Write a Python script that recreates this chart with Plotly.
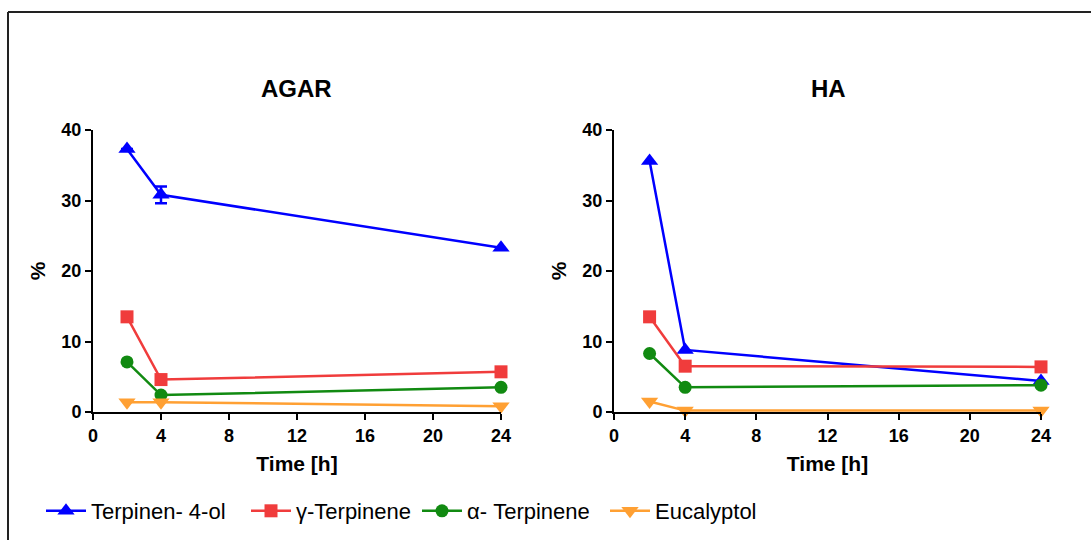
import plotly.graph_objects as go

# Sampling times (h)
time_h = [2, 4, 24]

# Release profiles (%) on AGAR
agar_terpinen4ol = [37.3, 30.8, 23.3]
agar_terpinen4ol_err = [0, 1.2, 0]
agar_gamma_terpinene = [13.5, 4.6, 5.7]
agar_alpha_terpinene = [7.1, 2.4, 3.5]
agar_eucalyptol = [1.4, 1.4, 0.8]

# Release profiles (%) on HA
ha_terpinen4ol = [35.6, 8.8, 4.4]
ha_gamma_terpinene = [13.5, 6.5, 6.4]
ha_alpha_terpinene = [8.3, 3.5, 3.8]
ha_eucalyptol = [1.5, 0.2, 0.2]

series_names = ["Terpinen- 4-ol", "\u03b3-Terpinene", "\u03b1- Terpinene", "Eucalyptol"]
x_ticks = [0, 4, 8, 12, 16, 20, 24]
y_ticks = [0, 10, 20, 30, 40]

colors = ["#0000FF", "#F03C3C", "#118A11", "#FFA033"]
symbols = ["triangle-up", "square", "circle", "triangle-down"]
marker_sizes = [15, 13, 13, 15]
FONT = "Arial, Liberation Sans, sans-serif"
W, H = 1091, 540

# one legend box per series so each entry sits at its own spot
legend_ids = ["legend", "legend2", "legend3", "legend4"]
legend_x_px = [41, 246, 417, 605]

fig = go.Figure()

panels = [
    ("x", "y", [agar_terpinen4ol, agar_gamma_terpinene, agar_alpha_terpinene, agar_eucalyptol], True),
    ("x2", "y2", [ha_terpinen4ol, ha_gamma_terpinene, ha_alpha_terpinene, ha_eucalyptol], False),
]

for xa, ya, data, show in panels:
    for i, vals in enumerate(data):
        err = None
        if show and i == 0:
            err = dict(type="data", array=agar_terpinen4ol_err, visible=True,
                       color=colors[0], thickness=2.5, width=6)
        fig.add_trace(go.Scatter(
            x=time_h, y=vals, xaxis=xa, yaxis=ya,
            mode="lines+markers", name=series_names[i],
            line=dict(color=colors[i], width=2.5),
            marker=dict(symbol=symbols[i], size=marker_sizes[i], color=colors[i]),
            error_y=err, showlegend=show, legend=legend_ids[i], cliponaxis=False,
        ))

axis_common = dict(
    showline=True, linecolor="black", linewidth=2,
    ticks="outside", ticklen=6, tickwidth=2, tickcolor="black",
    showgrid=False, zeroline=False,
    tickfont=dict(family=FONT, size=18, color="black", weight="bold"),
)

x_common = dict(axis_common, range=[0, 24], tickvals=x_ticks,
                title=dict(text="<b>Time [h]</b>", font=dict(family=FONT, size=21, color="black"), standoff=12))
y_common = dict(axis_common, range=[0, 40], tickvals=y_ticks,
                title=dict(text="<b>%</b>", font=dict(family=FONT, size=21, color="black"), standoff=10))

legend_style = dict(orientation="h", xanchor="left", y=1 - 511 / H, yanchor="middle",
                    font=dict(family=FONT, size=22, color="black"),
                    itemwidth=40, bgcolor="rgba(0,0,0,0)")
legends = {lid: dict(legend_style, x=px / W) for lid, px in zip(legend_ids, legend_x_px)}

fig.update_layout(
    width=W, height=H,
    margin=dict(l=0, r=0, t=0, b=0, autoexpand=False),
    paper_bgcolor="white", plot_bgcolor="white",
    xaxis=dict(x_common, domain=[93 / W, 501 / W], anchor="y"),
    yaxis=dict(y_common, domain=[1 - 412 / H, 1 - 130 / H], anchor="x"),
    xaxis2=dict(x_common, domain=[614 / W, 1041 / W], anchor="y2"),
    yaxis2=dict(y_common, domain=[1 - 412 / H, 1 - 130 / H], anchor="x2"),
    annotations=[
        dict(text="<b>AGAR</b>", x=297 / W, y=1 - 88 / H, xref="paper", yref="paper",
             xanchor="center", yanchor="middle",
             showarrow=False, font=dict(family=FONT, size=24, color="black")),
        dict(text="<b>HA</b>", x=828 / W, y=1 - 88 / H, xref="paper", yref="paper",
             xanchor="center", yanchor="middle",
             showarrow=False, font=dict(family=FONT, size=24, color="black")),
    ],
    shapes=[
        dict(type="line", xref="paper", yref="paper", x0=8 / W, x1=1.0, y0=1 - 12 / H, y1=1 - 12 / H,
             line=dict(color="#222222", width=2)),
        dict(type="line", xref="paper", yref="paper", x0=8 / W, x1=8 / W, y0=0, y1=1 - 12 / H,
             line=dict(color="#222222", width=2)),
    ],
    **legends,
)

fig.write_html("out.html")
